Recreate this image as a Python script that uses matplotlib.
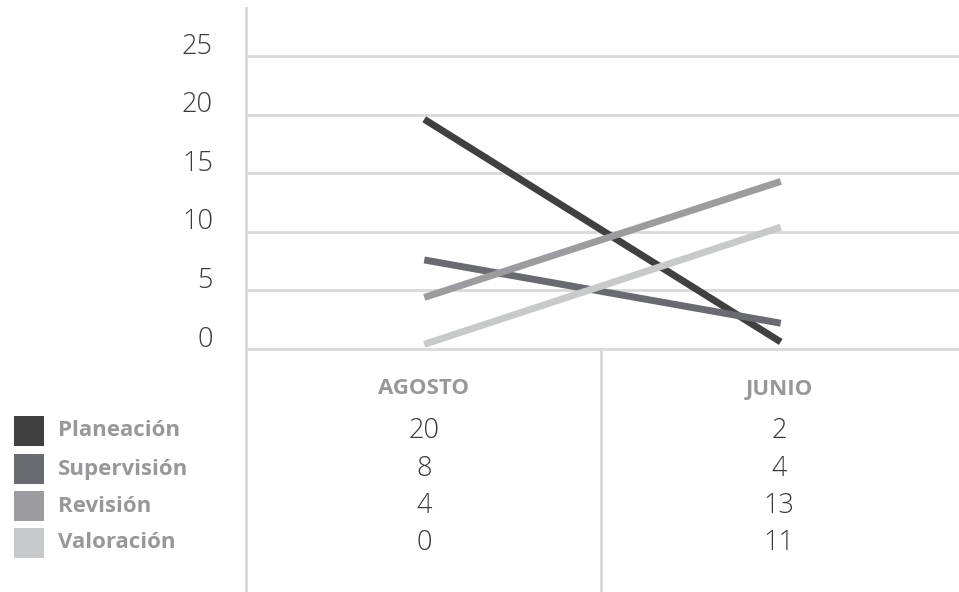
import matplotlib
matplotlib.use("Agg")
import matplotlib.pyplot as plt
from matplotlib.lines import Line2D
from matplotlib.patches import Rectangle

# ─── Datos ────────────────────────────────────────────────────────────────────
meses = ["AGOSTO", "JUNIO"]
series = ["Planeación", "Supervisión", "Revisión", "Valoración"]
# valores de las líneas
planeacion = [19.6, 0.6]
supervision = [7.6, 2.2]
revision = [4.4, 14.3]
valoracion = [0.4, 10.4]
# valores de la tabla inferior
tabla_agosto = [20, 8, 4, 0]
tabla_junio = [2, 4, 13, 11]
yticks = [0, 5, 10, 15, 20, 25]

colores = ["#404040", "#6a6b70", "#9c9ca0", "#c8c9cb"]
GRID = "#d9d9d9"
TXT = "#3a3a3a"
LEG = "#98989c"

W, H = 959, 592
fig = plt.figure(figsize=(W / 100, H / 100), dpi=100)


def fx(px):
    return px / W


def fy(py):
    return 1 - py / H


# ─── Área del gráfico ─────────────────────────────────────────────────────────
ax = fig.add_axes([fx(246), fy(349), fx(959 - 246), (349 - 56) / H])
ax.set_xlim(-0.5, 1.5)
ax.set_ylim(0, 25)
ax.axis("off")

for t in yticks:
    ax.axhline(t, color=GRID, lw=2, zorder=0, clip_on=False)
    # etiquetas un poco por encima de la línea de cuadrícula
    ax.text(-0.593, t + 0.8, str(t), ha="right", va="center", fontsize=19.5,
            family="Open Sans", weight="light", color=TXT)

x = range(len(meses))
for vals, c in zip([planeacion, supervision, revision, valoracion], colores):
    ax.plot(x, vals, color=c, lw=5, solid_capstyle="butt", zorder=3)

# líneas verticales del marco
fig.add_artist(Line2D([fx(246), fx(246)], [fy(8), fy(592)], color=GRID, lw=2))
fig.add_artist(Line2D([fx(601), fx(601)], [fy(349), fy(592)], color=GRID, lw=2))

# ─── Tabla de datos ───────────────────────────────────────────────────────────
filas_y = [431, 469, 506, 543]
col_x = [424, 779]

for cx, mes in zip(col_x, meses):
    fig.text(fx(cx), fy(389), mes, ha="center", va="center", fontsize=16,
             family="Open Sans", weight="bold", color=LEG)

for cx, valores in zip(col_x, [tabla_agosto, tabla_junio]):
    for yy, v in zip(filas_y, valores):
        fig.text(fx(cx), fy(yy), str(v), ha="center", va="center",
                 fontsize=19.5, family="Open Sans", weight="light", color=TXT)

for yy, nombre, c in zip(filas_y, series, colores):
    fig.add_artist(Rectangle((fx(14), fy(yy + 15)), fx(30), 30 / H,
                             color=c, lw=0))
    fig.text(fx(58), fy(yy), nombre, ha="left", va="center", fontsize=16,
             family="Open Sans", weight="bold", color=LEG)

plt.savefig("out.png", dpi=100)
